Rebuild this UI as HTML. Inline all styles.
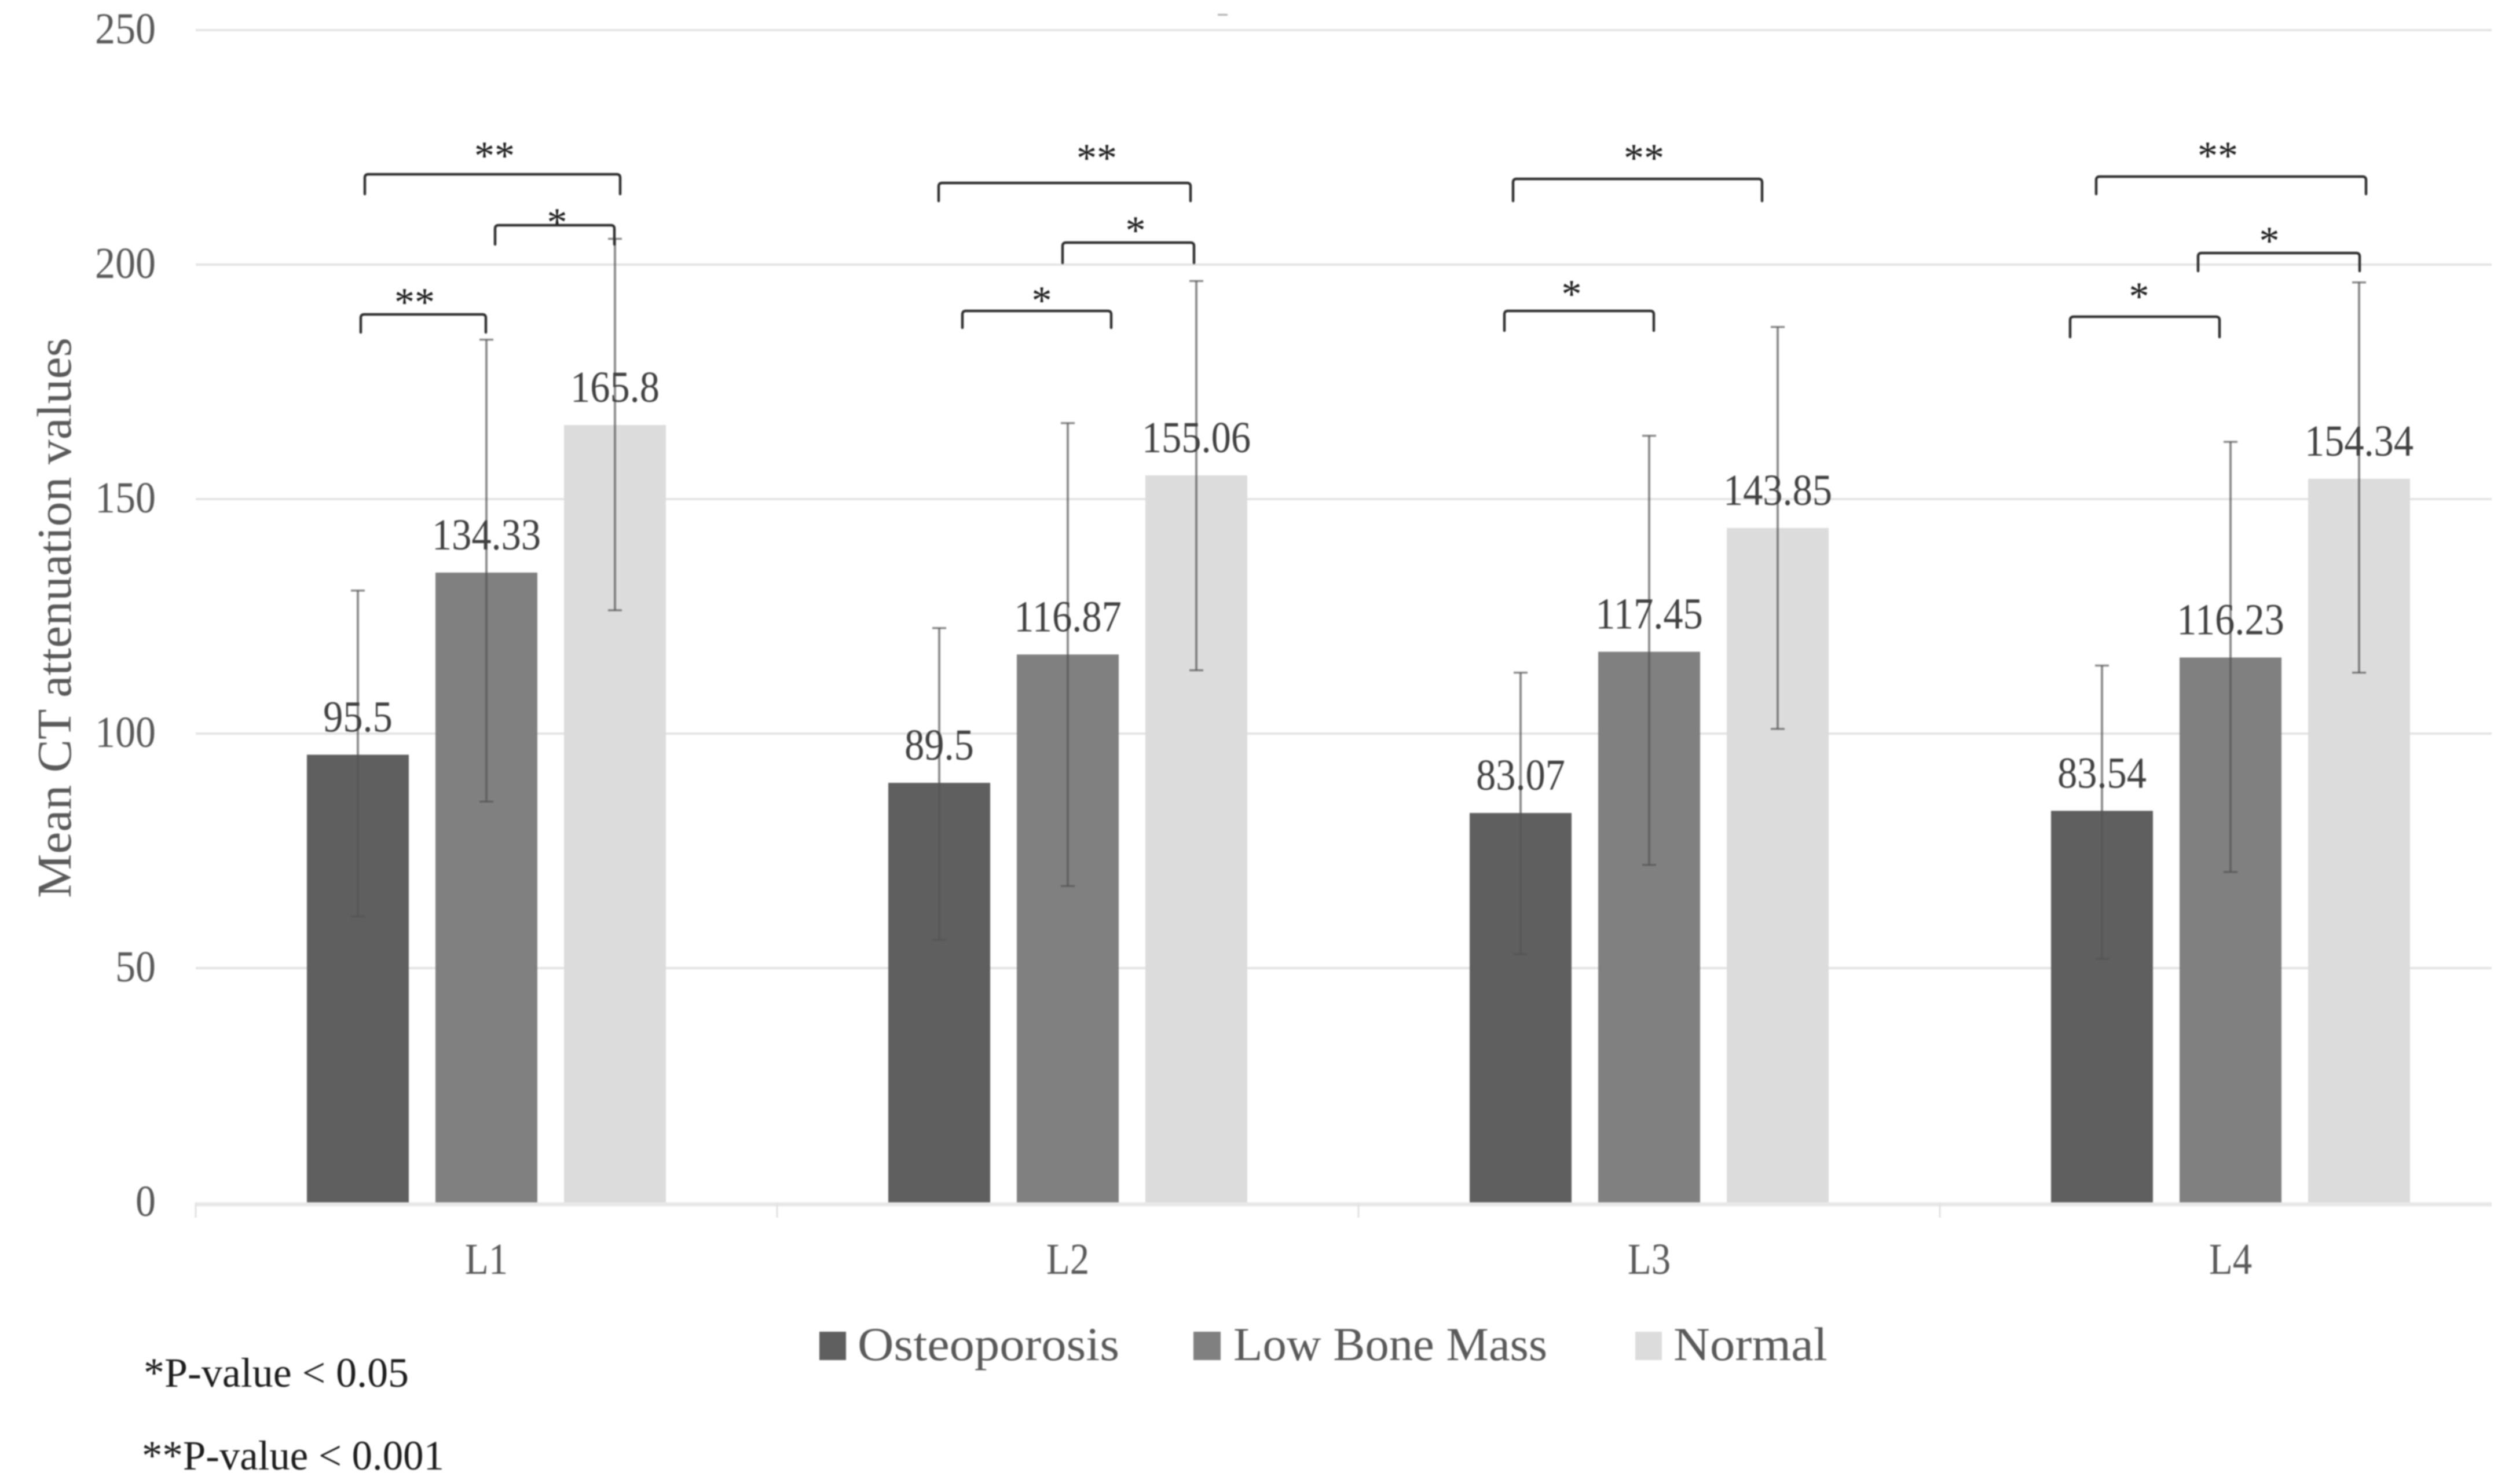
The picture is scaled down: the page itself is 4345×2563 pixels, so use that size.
<!DOCTYPE html>
<html lang="en">
<head>
<meta charset="utf-8">
<title>Mean CT attenuation values by lumbar level</title>
<style>
  html, body { margin: 0; padding: 0; background: #ffffff; }
  #chart { display: block; width: 4345px; height: 2563px; filter: blur(1.1px); font-family: "Liberation Serif", serif; }
  .bracket { fill: none; stroke: #303030; stroke-width: 4.5; stroke-linecap: round; }
  .star { fill: #1c1c1c; font-size: 70px; text-anchor: middle; }
  .note { fill: #1c1c1c; font-size: 72px; }
</style>
</head>
<body>
<svg id="chart" xmlns="http://www.w3.org/2000/svg" width="4345" height="2563" viewBox="0 0 4345 2563">
  <rect x="0" y="0" width="4345" height="2563" fill="#ffffff"></rect>
  <rect x="2103" y="24" width="17" height="3" fill="#b0b0b0"></rect>
  <g id="grid-layer"></g>
  <g id="bar-layer"></g>
  <g id="axis-layer"></g>
  <g id="error-layer"></g>
  <g id="label-layer"></g>

  <g>
    <path class="bracket" d="M630 335V307Q630 301 636 301H1065Q1071 301 1071 307V335"></path>
    <text class="star" x="854" y="292">**</text>
    <path class="bracket" d="M855 422V395Q855 389 861 389H1055Q1061 389 1061 395V422"></path>
    <text class="star" x="962" y="407">*</text>
    <path class="bracket" d="M623 574V549Q623 543 629 543H833Q839 543 839 549V574"></path>
    <text class="star" x="716" y="545">**</text>
  </g>
  <g>
    <path class="bracket" d="M1621 347V322Q1621 316 1627 316H2050Q2056 316 2056 322V347"></path>
    <text class="star" x="1894" y="296">**</text>
    <path class="bracket" d="M1835 454V425Q1835 419 1841 419H2056Q2062 419 2062 425V454"></path>
    <text class="star" x="1961" y="421">*</text>
    <path class="bracket" d="M1662 566V543Q1662 537 1668 537H1913Q1919 537 1919 543V566"></path>
    <text class="star" x="1799" y="542">*</text>
  </g>
  <g>
    <path class="bracket" d="M2613 347V315Q2613 309 2619 309H3037Q3043 309 3043 315V347"></path>
    <text class="star" x="2839" y="296">**</text>
    <path class="bracket" d="M2598 571V543Q2598 537 2604 537H2850Q2856 537 2856 543V571"></path>
    <text class="star" x="2714" y="531">*</text>
  </g>
  <g>
    <path class="bracket" d="M3620 335V311Q3620 305 3626 305H4080Q4086 305 4086 311V335"></path>
    <text class="star" x="3830" y="292">**</text>
    <path class="bracket" d="M3796 468V443Q3796 437 3802 437H4069Q4075 437 4075 443V468"></path>
    <text class="star" x="3919" y="439">*</text>
    <path class="bracket" d="M3575 582V553Q3575 547 3581 547H3827Q3833 547 3833 553V582"></path>
    <text class="star" x="3694" y="535">*</text>
  </g>

  <text transform="translate(122 1551) rotate(-90)" font-size="84" fill="#595959" textLength="968" lengthAdjust="spacingAndGlyphs">Mean CT attenuation values</text>

  <g>
    <g>
      <rect x="1415" y="2300" width="46" height="49" fill="#5f5f5f"></rect>
      <text x="1481" y="2349" font-size="82" fill="#595959" textLength="452" lengthAdjust="spacingAndGlyphs">Osteoporosis</text>
    </g>
    <g>
      <rect x="2061" y="2300" width="47" height="49" fill="#808080"></rect>
      <text x="2130" y="2349" font-size="82" fill="#595959" textLength="542" lengthAdjust="spacingAndGlyphs">Low Bone Mass</text>
    </g>
    <g>
      <rect x="2824" y="2300" width="46" height="49" fill="#dcdcdc"></rect>
      <text x="2890" y="2349" font-size="82" fill="#595959" textLength="266" lengthAdjust="spacingAndGlyphs">Normal</text>
    </g>
  </g>

  <text class="note" x="248" y="2395" textLength="458" lengthAdjust="spacingAndGlyphs">*P-value &lt; 0.05</text>
  <text class="note" x="245" y="2538" textLength="522" lengthAdjust="spacingAndGlyphs">**P-value &lt; 0.001</text>
</svg>

<script>
const categories = ['L1', 'L2', 'L3', 'L4'];
const yTicks = [0, 50, 100, 150, 200, 250];
const osteoporosis = [95.5, 89.5, 83.07, 83.54];
const lowBoneMass = [134.33, 116.87, 117.45, 116.23];
const normal = [165.8, 155.06, 143.85, 154.34];
const osteoporosisUpper = [130.5, 122.5, 113, 114.5];
const osteoporosisLower = [61, 56, 53, 52];
const lowBoneMassUpper = [184, 166.2, 163.5, 162.2];
const lowBoneMassLower = [85.5, 67.5, 72, 70.5];
const normalUpper = [205.5, 196.5, 186.7, 196.2];
const normalLower = [126.3, 113.5, 101, 113];

const NS = 'http://www.w3.org/2000/svg';
const plot = { left: 338, right: 4303, zero: 2077, pxPerUnit: 8.1, band: 1004, barWidth: 176, barStep: 222 };
const fills = ['#5f5f5f', '#808080', '#dcdcdc'];
const seriesKeys = ['osteoporosis', 'low-bone-mass', 'normal'];
const seriesValues = [osteoporosis, lowBoneMass, normal];
const seriesUpper = [osteoporosisUpper, lowBoneMassUpper, normalUpper];
const seriesLower = [osteoporosisLower, lowBoneMassLower, normalLower];
const errorStroke = 'rgba(84,84,84,0.68)';

function yScale(value) {
  return plot.zero - value * plot.pxPerUnit;
}
function xBand(index) {
  return plot.left + plot.band * (index + 0.5);
}
function xBar(index, seriesIndex) {
  return xBand(index) + (seriesIndex - 1) * plot.barStep;
}
function make(tag, parent) {
  const node = document.createElementNS(NS, tag);
  parent.appendChild(node);
  return node;
}
function placeText(node, x, y, text, size, squeeze, anchor, color) {
  node.setAttribute('transform', 'translate(' + x + ' ' + y + ') scale(' + squeeze + ' 1)');
  node.setAttribute('font-size', size);
  node.setAttribute('text-anchor', anchor);
  node.setAttribute('fill', color);
  node.textContent = text;
}

const gridLayer = document.getElementById('grid-layer');
const barLayer = document.getElementById('bar-layer');
const axisLayer = document.getElementById('axis-layer');
const errorLayer = document.getElementById('error-layer');
const labelLayer = document.getElementById('label-layer');

yTicks.forEach(function (tick) {
  if (tick !== 0) {
    const grid = make('line', gridLayer);
    
    
    grid.setAttribute('x1', plot.left);
    grid.setAttribute('x2', plot.right);
    grid.setAttribute('y1', yScale(tick));
    grid.setAttribute('y2', yScale(tick));
    grid.setAttribute('stroke', '#e4e4e4');
    grid.setAttribute('stroke-width', 4);
  }
  const tickLabel = make('text', axisLayer);
  
  
  placeText(tickLabel, 269, yScale(tick) + 23, String(tick), 76, 0.92, 'end', '#595959');
});

const baseline = make('line', axisLayer);


baseline.setAttribute('x1', plot.left);
baseline.setAttribute('x2', plot.right);
baseline.setAttribute('y1', plot.zero + 3);
baseline.setAttribute('y2', plot.zero + 3);
baseline.setAttribute('stroke', '#e8e8e8');
baseline.setAttribute('stroke-width', 7);

for (let t = 0; t < categories.length; t++) {
  const tickMark = make('line', axisLayer);
  
  
  const tickX = xBand(t) - plot.band / 2;
  tickMark.setAttribute('x1', tickX);
  tickMark.setAttribute('x2', tickX);
  tickMark.setAttribute('y1', plot.zero);
  tickMark.setAttribute('y2', plot.zero + 26);
  tickMark.setAttribute('stroke', '#e2e2e2');
  tickMark.setAttribute('stroke-width', 3);
}

categories.forEach(function (category, i) {
  const catLabel = make('text', axisLayer);
  
  
  placeText(catLabel, xBand(i), plot.zero + 123, category, 76, 0.88, 'middle', '#595959');

  seriesValues.forEach(function (values, s) {
    const cx = xBar(i, s);
    const value = values[i];

    const bar = make('rect', barLayer);
    
    
    bar.setAttribute('x', cx - plot.barWidth / 2);
    bar.setAttribute('y', yScale(value));
    bar.setAttribute('width', plot.barWidth);
    bar.setAttribute('height', plot.zero - yScale(value));
    bar.setAttribute('fill', fills[s]);

    const stem = make('line', errorLayer);
    
    
    stem.setAttribute('x1', cx);
    stem.setAttribute('x2', cx);
    stem.setAttribute('y1', yScale(seriesUpper[s][i]));
    stem.setAttribute('y2', yScale(seriesLower[s][i]));
    stem.setAttribute('stroke', errorStroke);
    stem.setAttribute('stroke-width', 4);

    const capTop = make('line', errorLayer);
    
    
    capTop.setAttribute('x1', cx - 12);
    capTop.setAttribute('x2', cx + 12);
    capTop.setAttribute('y1', yScale(seriesUpper[s][i]));
    capTop.setAttribute('y2', yScale(seriesUpper[s][i]));
    capTop.setAttribute('stroke', errorStroke);
    capTop.setAttribute('stroke-width', 3.5);

    const capBottom = make('line', errorLayer);
    
    
    capBottom.setAttribute('x1', cx - 12);
    capBottom.setAttribute('x2', cx + 12);
    capBottom.setAttribute('y1', yScale(seriesLower[s][i]));
    capBottom.setAttribute('y2', yScale(seriesLower[s][i]));
    capBottom.setAttribute('stroke', errorStroke);
    capBottom.setAttribute('stroke-width', 3.5);

    const valueLabel = make('text', labelLayer);
    
    
    placeText(valueLabel, cx, yScale(value) - 40, String(value), 76, 0.9, 'middle', '#404040');
  });
});
</script>
</body>
</html>
